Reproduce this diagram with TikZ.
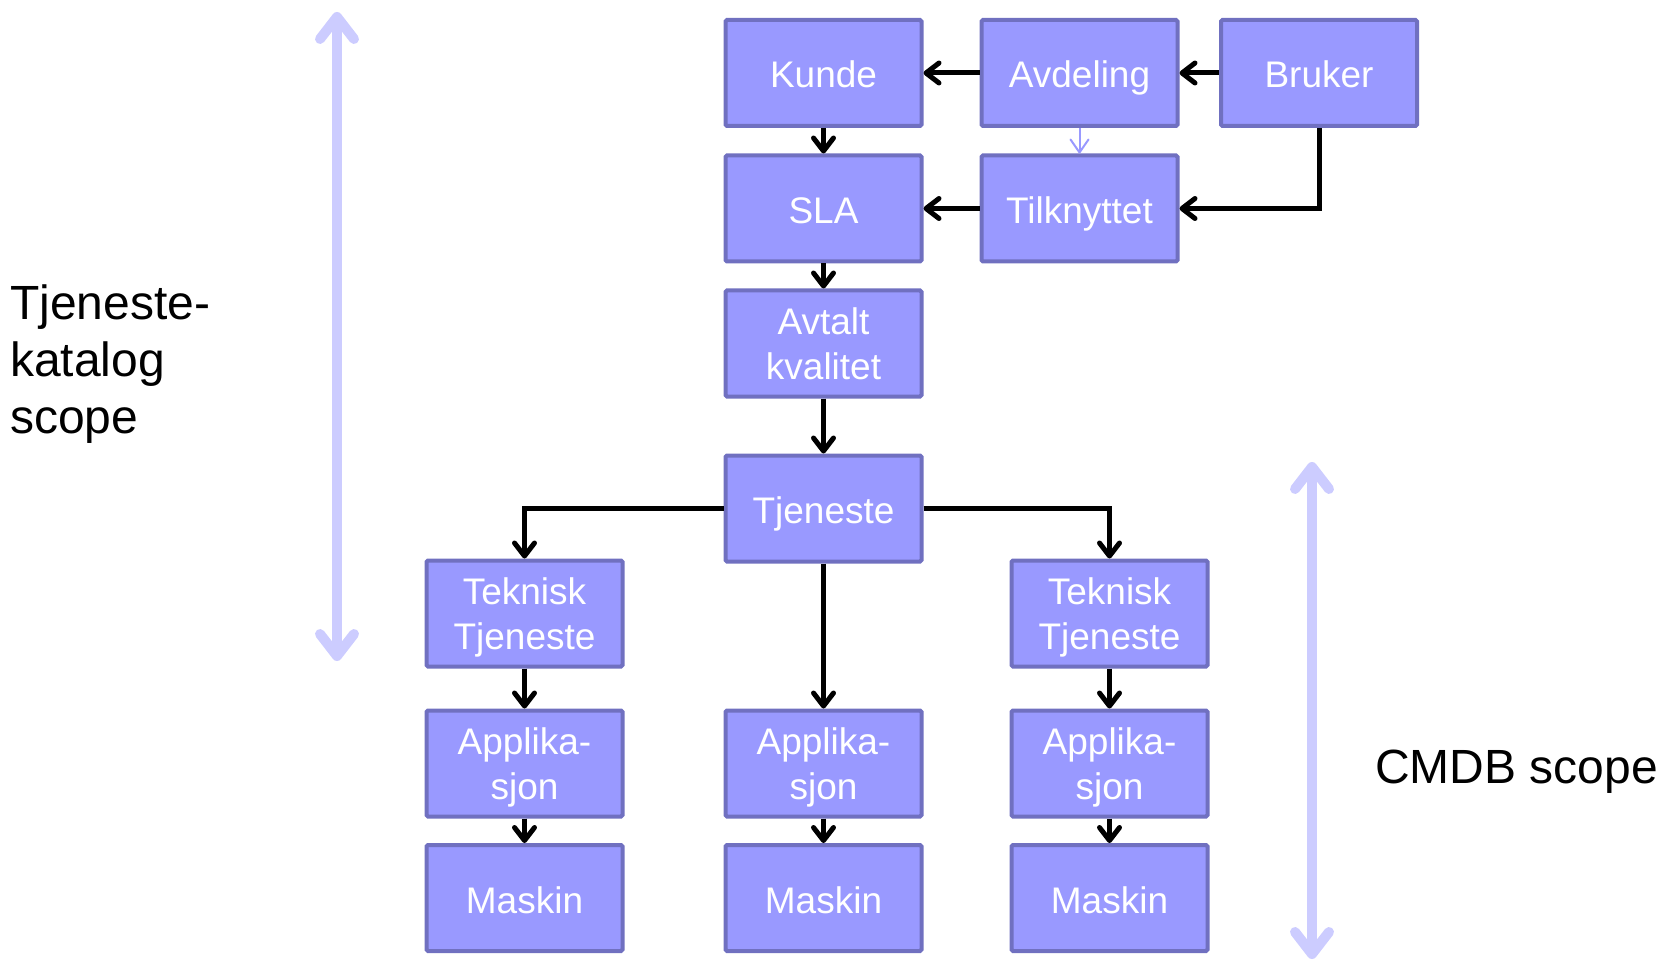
\documentclass[tikz,border=0pt]{standalone}
\usepackage{fontspec}
\setmainfont{Liberation Sans}
\usetikzlibrary{arrows.meta,positioning}

\definecolor{boxfill}{RGB}{153,153,255}
\definecolor{boxline}{RGB}{112,112,192}
\definecolor{scopecol}{RGB}{204,204,255}

\begin{document}
\begin{tikzpicture}[
        x=1pt, y=-1pt,
    box/.style={draw=boxline, fill=boxfill, line width=4pt, rounded corners=1.5pt,
        minimum width=196pt, minimum height=106pt, inner sep=2pt, text depth=0pt,
        align=center, text=white, font=\fontsize{37}{45}\selectfont},
    onebox/.style={box, text height=30pt},
    link/.style={line width=5pt, black,
        -{Straight Barb[length=13pt,width=20pt,round]}},
    thinlink/.style={line width=2pt, boxfill,
        -{Straight Barb[length=13pt,width=18pt,round]}},
    scope/.style={line width=10pt, scopecol, line cap=round,
        {Straight Barb[length=22pt,width=34pt,round]}-{Straight Barb[length=22pt,width=34pt,round]}},
    label/.style={align=left, inner sep=0pt, font=\fontsize{48}{57}\selectfont}
]
\useasboundingbox (0,0) rectangle (1670,968);

    \node[onebox] (kunde) at (823.5,73) {Kunde};
    \node[onebox] (avd) at (1079.5,73) {Avdeling};
    \node[onebox] (bruk) at (1319,73) {Bruker};
    \node[onebox] (sla) at (823.5,208.5) {SLA};
    \node[onebox] (tilk) at (1079.5,208.5) {Tilknyttet};
    \node[box] (avtalt) at (823.5,343.5) {Avtalt\\kvalitet};
    \node[onebox] (tj) at (823.5,508.5) {Tjeneste};

    \node[box] (tt1) at (524.5,613.5) {Teknisk\\Tjeneste};
    \node[box] (tt2) at (1109.5,613.5) {Teknisk\\Tjeneste};
    \node[box] (app1) at (524.5,763.5) {Applika-\\sjon};
    \node[box] (app2) at (823.5,763.5) {Applika-\\sjon};
    \node[box] (app3) at (1109.5,763.5) {Applika-\\sjon};
    \node[onebox] (m1) at (524.5,898) {Maskin};
    \node[onebox] (m2) at (823.5,898) {Maskin};
    \node[onebox] (m3) at (1109.5,898) {Maskin};

    \node[label, anchor=west] (tkat) at (10,364) {Tjeneste-\\katalog\\scope};
    \node[label, anchor=west] (cmdb) at (1375,772) {CMDB scope};

    \coordinate (ktop) at (337,12);
    \coordinate (kbot) at (337,661);
    \coordinate (ctop) at (1312,462);
    \coordinate (cbot) at (1312,959);

    \draw[scope] (ktop) -- (kbot);
    \draw[scope] (ctop) -- (cbot);

    \draw[link] (avd) -- (kunde);
    \draw[link] (bruk) -- (avd);
    \draw[link] (tilk) -- (sla);
    \draw[link] (bruk.south) |- (tilk.east);
    \draw[thinlink] (avd) -- (tilk);
    \draw[link] (kunde) -- (sla);
    \draw[link] (sla) -- (avtalt);
    \draw[link] (avtalt) -- (tj);

    \draw[link] (tj.west) -| (tt1.north);
    \draw[link] (tj.east) -| (tt2.north);
    \draw[link] (tj) -- (app2);

    \draw[link] (tt1) -- (app1);
    \draw[link] (tt2) -- (app3);
    \draw[link] (app1) -- (m1);
    \draw[link] (app2) -- (m2);
    \draw[link] (app3) -- (m3);
\end{tikzpicture}
\end{document}
